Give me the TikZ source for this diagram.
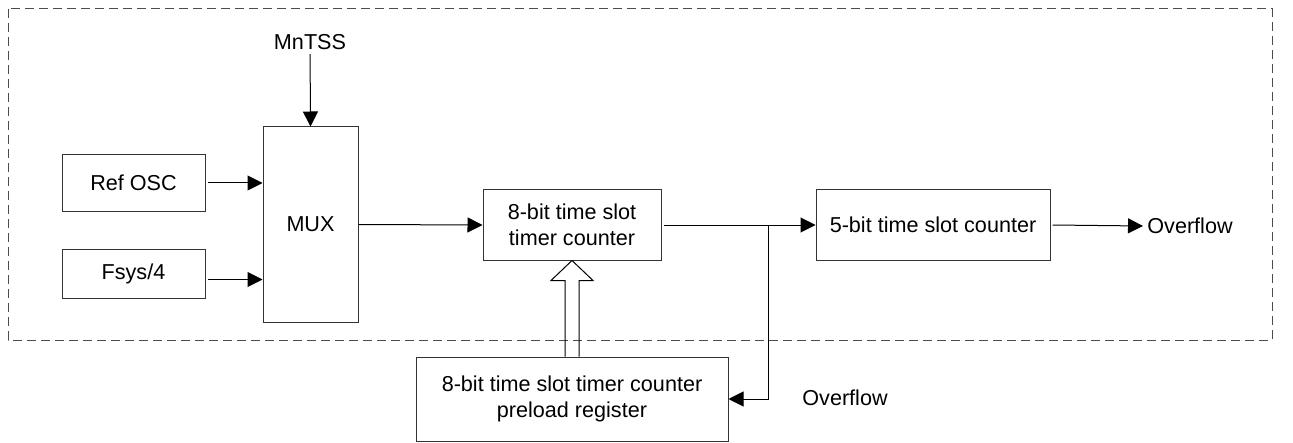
\documentclass[tikz,border=0pt]{standalone}
\usepackage{fontspec}
\setmainfont{Liberation Sans}
\usepackage{tikz}
\usetikzlibrary{arrows.meta, positioning}

\tikzset{
    blk/.style={draw=black!80, line width=0.5pt, inner sep=0pt, align=center},
    lbl/.style={inner sep=2pt},
    sig/.style={line width=0.5pt, -{Triangle[length=7.5pt, width=7.5pt]}}
}

\begin{document}
\begin{tikzpicture}[x=0.5pt, y=-0.5pt, font=\fontsize{10.8}{13}\selectfont]
    \useasboundingbox (0,0) rectangle (1293,443);

    % 1. Khung nét đứt
    \draw[dashed, dash pattern=on 4.5pt off 2.5pt, black!70, line width=0.5pt]
        (8,9) rectangle (1272,340);

    % 2. Các khối
    \node[blk, minimum width=71.5pt, minimum height=28pt] (refosc) at (133.5,183) {Ref OSC};
    \node[blk, minimum width=71.5pt, minimum height=24.5pt] (fsys) at (133.5,273.5) {Fsys/4};
    \node[blk, minimum width=47.5pt, minimum height=97.5pt] (mux) at (310.5,224.5) {MUX};
    \node[blk, minimum width=89pt, minimum height=35pt] (timer) at (572,225)
        {8-bit time slot\\timer counter};
    \node[blk, minimum width=117pt, minimum height=35pt] (slot) at (933,225)
        {5-bit time slot counter};
    \node[blk, minimum width=156pt, minimum height=42pt] (preload) at (572,399)
        {8-bit time slot timer counter\\preload register};

    % 3. Nhãn
    \node[lbl] (mntss) at (310,42) {MnTSS};
    \node[lbl, anchor=west] (ovf) at (1143,226) {Overflow};
    \node[lbl] (ovflow) at (845,398) {Overflow};

    % 4. Đường nối
    \draw[sig] (mntss) -- (mux.north);
    \draw[sig] ([xshift=1pt]refosc.east) -- (mux.west |- refosc.east);
    \draw[sig] ([xshift=1pt, yshift=-3pt]fsys.east) -- ([yshift=-3pt]mux.west |- fsys.east);
    \draw[sig] (mux.east) -- (timer.west);
    \draw[sig] ([xshift=1pt]timer.east) -- (slot.west);
    \draw[sig] ([xshift=1pt]slot.east) -- (ovf.west);
    \coordinate (br) at (768,226);
    \draw[sig] (br) |- (preload.east);

    % 5. Mũi tên rỗng
    \draw[line width=0.5pt] ([xshift=-3.5pt]preload.north)
        |- ([xshift=-10.5pt, yshift=-10pt]timer.south) -- (timer.south)
        -- ([xshift=10.5pt, yshift=-10pt]timer.south) -| ([xshift=3.5pt]preload.north);
\end{tikzpicture}
\end{document}
